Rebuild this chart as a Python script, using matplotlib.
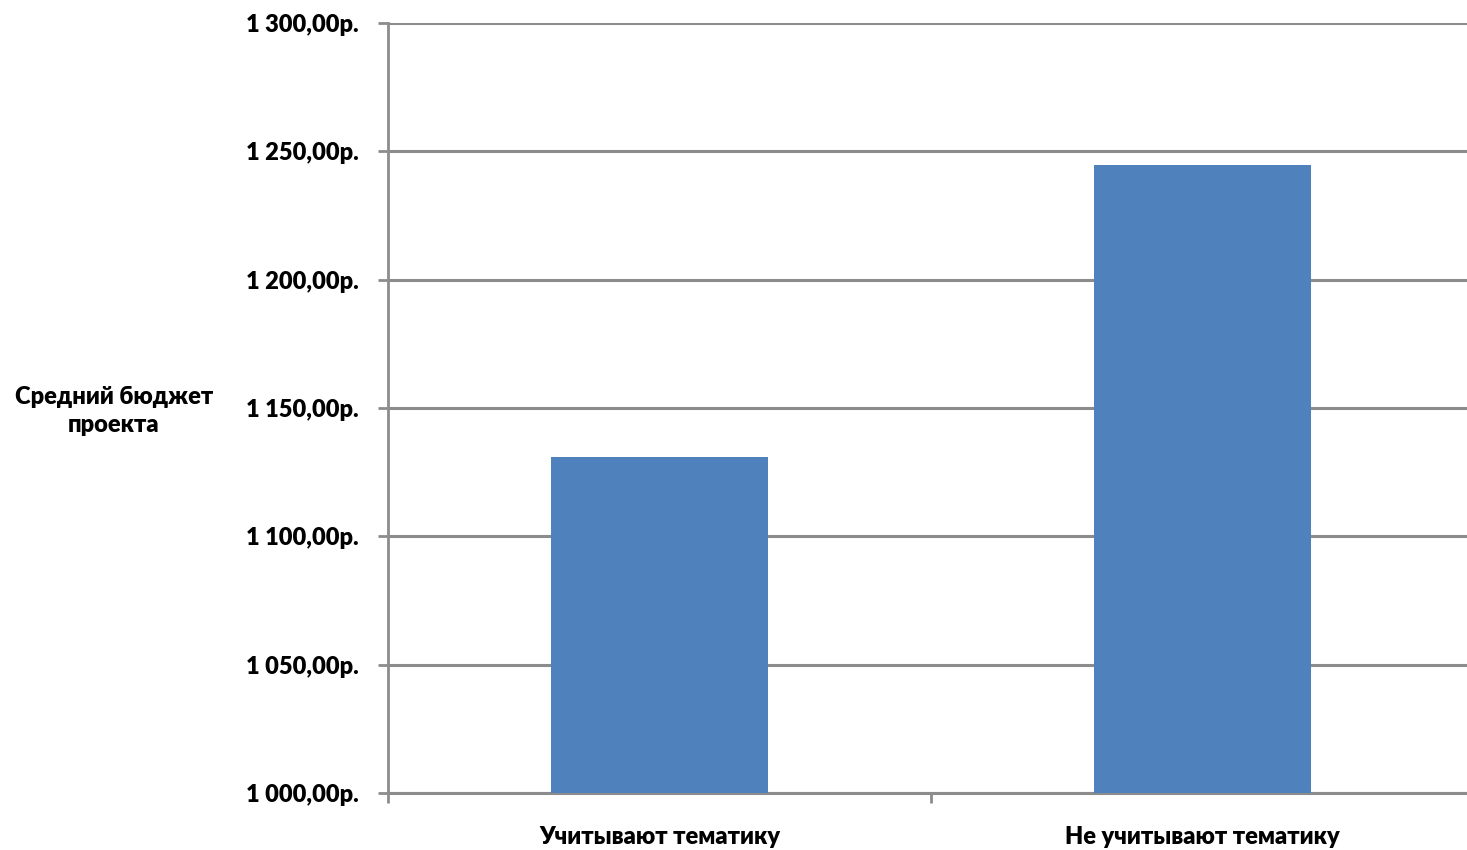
import matplotlib.pyplot as plt
import numpy as np

categories = ['Учитывают тематику', 'Не учитывают тематику']
budget = [1130.9, 1244.7]
y_ticks = [1000, 1050, 1100, 1150, 1200, 1250, 1300]
y_labels = ['1 000,00р.', '1 050,00р.', '1 100,00р.', '1 150,00р.',
            '1 200,00р.', '1 250,00р.', '1 300,00р.']

plt.rcParams['font.family'] = ['Lato', 'DejaVu Sans']

W, H = 1467, 850
fig = plt.figure(figsize=(W / 100, H / 100), dpi=100)
# область построения: x от 388 до 1474 px (правый край чуть за кадром), y от 23 до 793 px
ax = fig.add_axes([388 / W, (H - 793) / H, (1474 - 388) / W, (793 - 23) / H])

grid_color = '#8c8c8c'
fs = 17
x = np.arange(len(categories))
ax.bar(x, budget, width=0.4, color='#4f81bd', zorder=3)

ax.set_xlim(-0.5, len(categories) - 0.5)
ax.set_ylim(1000, 1300)
ax.set_yticks(y_ticks)
ax.set_yticklabels(y_labels, fontsize=fs, fontweight='heavy')
ax.set_xticks(np.arange(-0.5, len(categories) + 0.5, 1), minor=False)
ax.set_xticklabels([])
ax.set_xticks(x, minor=True)
ax.set_xticklabels(categories, minor=True, fontsize=fs, fontweight='heavy')

ax.tick_params(axis='y', length=7.2, width=2, color=grid_color, pad=14)
ax.tick_params(axis='x', which='major', length=7.2, width=2, color=grid_color)
ax.tick_params(axis='x', which='minor', length=0, pad=24)

ax.grid(axis='y', color=grid_color, linewidth=2.2, zorder=0)
ax.set_axisbelow(True)
for side in ['top', 'right']:
    ax.spines[side].set_visible(False)
ax.spines['left'].set_color(grid_color)
ax.spines['left'].set_linewidth(2)
ax.spines['bottom'].set_color(grid_color)
ax.spines['bottom'].set_linewidth(2.2)

fig.text(114 / W, 1 - 411 / H, 'Средний бюджет\nпроекта', ha='center', va='center',
         fontsize=fs, fontweight='heavy', linespacing=1.35)

fig.savefig('out.png', dpi=100)
